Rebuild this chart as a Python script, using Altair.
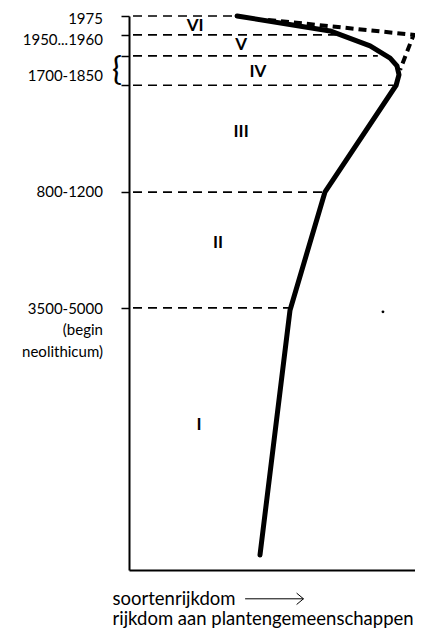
import altair as alt
import pandas as pd

# --- data (x: species richness, 0..100 ; y: time position, 0 = axis bottom, 100 = 1975) ---
level_y = [100.0, 96.6, 92.8, 87.5, 68.2, 47.3]          # period boundaries
level_reach = [36.4, 72.5, 87.0, 92.5, 68.5, 56.3]       # where the dashed guide stops

curve_x = [37.8, 70.3, 84.3, 91.3, 93.7, 94.4, 93.4, 68.5, 56.3, 45.8]
curve_y = [100.0, 97.3, 94.6, 92.4, 91.0, 89.4, 87.5, 68.2, 46.9, 2.7]

comm_x = [48.6, 99.5, 94.8]
comm_y = [99.3, 96.6, 90.3]

period_labels = ["VI", "V", "IV", "III", "II", "I"]
period_x = [23.1, 39.2, 45.1, 39.2, 31.1, 24.5]
period_y = [98.2, 94.8, 89.9, 79.1, 59.0, 26.2]

axis_labels = ["1975", "1950...1960", "1700-1850", "800-1200", "3500-5000", "(begin", "neolithicum)"]
axis_label_y = [99.5, 95.7, 89.2, 68.2, 47.1, 43.3, 39.4]
axis_label_x = -9.1

brace_x = [-4.2]
brace_y = [90.2]

dot_x = [88.8]
dot_y = [46.6]

arrow_x = [40.6]
arrow_x2 = [61.0]
arrow_y = [-5.2]

FONT = "Lato"

xs = alt.Scale(domain=[0, 100], nice=False, zero=False)
ys = alt.Scale(domain=[0, 100], nice=False, zero=False)

xaxis = alt.Axis(
    title=["soortenrijkdom", "rijkdom aan plantengemeenschappen"],
    labels=False, ticks=False, grid=False,
    domainColor="black", domainWidth=2,
    titleAnchor="start", titleAlign="left", titleX=-17, titleY=34,
    titleBaseline="alphabetic", titleFont=FONT, titleFontSize=18.5,
    titleFontWeight="normal", titleLineHeight=20, titleColor="black",
)
yaxis = alt.Axis(
    title=None, labels=False, values=level_y, tickSize=8,
    tickColor="black", tickWidth=1.5, grid=False,
    domainColor="black", domainWidth=2,
)


def X(field="x"):
    return alt.X(f"{field}:Q", scale=xs, axis=xaxis)


def Y(field="y"):
    return alt.Y(f"{field}:Q", scale=ys, axis=yaxis)


guides_df = pd.DataFrame({"x": [1.4] * len(level_y), "x2": level_reach, "y": level_y})
guides = alt.Chart(guides_df).mark_rule(
    color="black", strokeWidth=1.7, strokeDash=[9, 6]
).encode(x=X(), x2="x2:Q", y=Y())

curve_df = pd.DataFrame({"x": curve_x, "y": curve_y, "i": range(len(curve_x))})
curve = alt.Chart(curve_df).mark_line(
    color="black", strokeWidth=5, strokeCap="round", strokeJoin="round"
).encode(x=X(), y=Y(), order="i:Q")

comm_df = pd.DataFrame({"x": comm_x, "y": comm_y, "i": range(len(comm_x))})
comm = alt.Chart(comm_df).mark_line(
    color="black", strokeWidth=4, strokeDash=[8, 5]
).encode(x=X(), y=Y(), order="i:Q")

period_df = pd.DataFrame({"x": period_x, "y": period_y, "t": period_labels})
periods = alt.Chart(period_df).mark_text(
    font=FONT, fontSize=17, fontWeight="bold", color="black", align="center", baseline="middle"
).encode(x=X(), y=Y(), text="t:N")

label_df = pd.DataFrame({"x": [axis_label_x] * len(axis_labels), "y": axis_label_y, "t": axis_labels})
labels = alt.Chart(label_df).mark_text(
    font=FONT, fontSize=15, color="black", align="right", baseline="middle"
).encode(x=X(), y=Y(), text="t:N")

brace_df = pd.DataFrame({"x": brace_x, "y": brace_y, "t": ["{"]})
brace = alt.Chart(brace_df).mark_text(
    font=FONT, fontSize=33, fontWeight="normal", color="black", align="center", baseline="middle"
).encode(x=X(), y=Y(), text="t:N")

dot_df = pd.DataFrame({"x": dot_x, "y": dot_y})
dot = alt.Chart(dot_df).mark_point(
    filled=True, color="black", size=8, opacity=1
).encode(x=X(), y=Y())

arrow_df = pd.DataFrame({"x": arrow_x, "x2": arrow_x2, "y": arrow_y})
arrow_line = alt.Chart(arrow_df).mark_rule(color="black", strokeWidth=1).encode(
    x=X(), x2="x2:Q", y=Y()
)
arrow_head = alt.Chart(arrow_df).mark_point(
    shape="M-1.2,-1L0,0L-1.2,1", filled=False, color="black", strokeWidth=1, size=130, opacity=1
).encode(x=X("x2"), y=Y())

chart = alt.layer(
    guides, comm, curve, periods, labels, brace, dot, arrow_line, arrow_head
).properties(
    width=286, height=554, autosize="none",
    padding={"left": 121, "top": 8, "right": 0, "bottom": 61},
).configure_view(stroke=None)

chart.save("out.html", embed_options={"renderer": "svg", "actions": False})
